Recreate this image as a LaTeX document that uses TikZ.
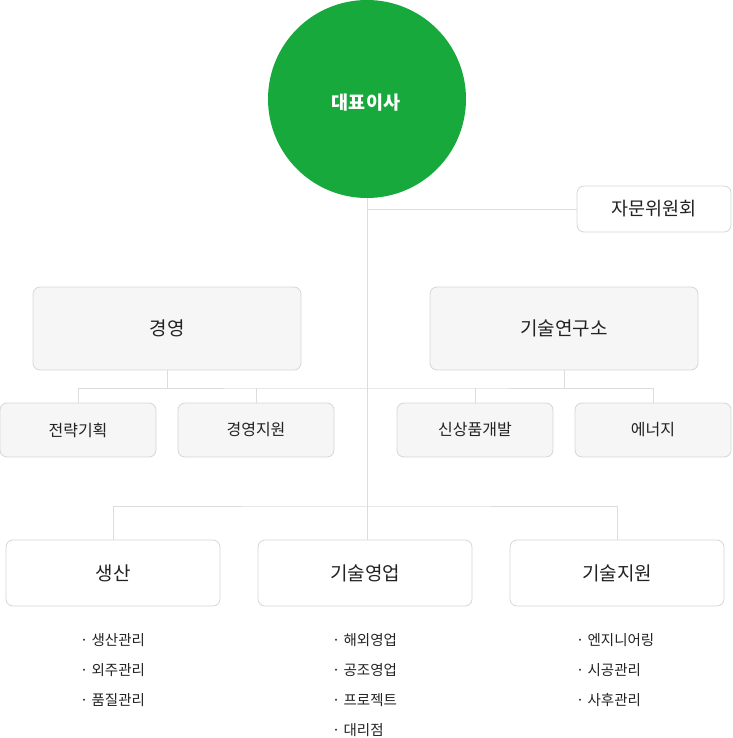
\documentclass[tikz,border=0pt]{standalone}
\usepackage{fontspec}
\setmainfont{Noto Sans CJK KR}
\definecolor{green}{HTML}{17A93B}
\definecolor{lineg}{HTML}{DCDCDC}
\definecolor{boxb}{HTML}{D6D6D6}
\definecolor{boxf}{HTML}{F6F6F6}
\definecolor{txt}{HTML}{222222}
\begin{document}
\begin{tikzpicture}[x=1pt,y=-1pt,
  conn/.style={draw=lineg,line width=0.9pt},
  gbox/.style={draw=boxb,fill=boxf,rounded corners=7pt,line width=0.8pt,text=txt},
  wbox/.style={draw=boxb,fill=white,rounded corners=7pt,line width=0.8pt,text=txt},
  item/.style={anchor=west,text=txt,font=\fontsize{14.5}{16}\selectfont,inner sep=0pt}]
\useasboundingbox (0,0) rectangle (732,738);
\node[circle,fill=green,minimum size=198pt,inner sep=0pt] (ceo) at (367,99) {};
\node[text=white,font=\fontsize{18.5}{20}\selectfont\bfseries] (ceot) at (366,103) {대표이사};
\node[wbox,minimum width=154pt,minimum height=46pt,font=\fontsize{18.5}{20}\selectfont] (adv) at (654,209) {자문위원회};
\node[gbox,minimum width=268pt,minimum height=83pt,font=\fontsize{19}{21}\selectfont] (mgmt) at (167,328.5) {경영};
\node[gbox,minimum width=268pt,minimum height=83pt,font=\fontsize{19}{21}\selectfont] (lab) at (564,328.5) {기술연구소};
\node[gbox,minimum width=156pt,minimum height=54pt,font=\fontsize{16}{18}\selectfont] (s1) at (78,430) {전략기획};
\node[gbox,minimum width=156pt,minimum height=54pt,font=\fontsize{16}{18}\selectfont] (s2) at (256,430) {경영지원};
\node[gbox,minimum width=156pt,minimum height=54pt,font=\fontsize{16}{18}\selectfont] (s3) at (475,430) {신상품개발};
\node[gbox,minimum width=156pt,minimum height=54pt,font=\fontsize{16}{18}\selectfont] (s4) at (653,430) {에너지};
\node[wbox,minimum width=214pt,minimum height=66pt,font=\fontsize{19}{21}\selectfont] (prod) at (113,573) {생산};
\node[wbox,minimum width=214pt,minimum height=66pt,font=\fontsize{19}{21}\selectfont] (sales) at (365,573) {기술영업};
\node[wbox,minimum width=214pt,minimum height=66pt,font=\fontsize{19}{21}\selectfont] (supp) at (617,573) {기술지원};
% connectors
\coordinate (j1) at (367,209);
\coordinate (j2) at (367,388);
\coordinate (j3) at (367,506);
\coordinate (sb) at (367,540);
\draw[conn] (ceo.south) -- (sb);
\draw[conn] (j1) -- (adv.west);
\draw[conn] (mgmt.south) -- (167,388);
\draw[conn] (lab.south) -- (564,388);
\draw[conn] (s1.north) |- (j2) -| (s4.north);
\draw[conn] (s2.north) -- (256,388);
\draw[conn] (s3.north) -- (475,388);
\draw[conn] (prod.north) |- (j3) -| (supp.north);
% lists
\node[item] (p1) at (80,640) {· 생산관리};
\node[item] (p2) at (80,670) {· 외주관리};
\node[item] (p3) at (80,700) {· 품질관리};
\node[item] (t1) at (332,640) {· 해외영업};
\node[item] (t2) at (332,670) {· 공조영업};
\node[item] (t3) at (332,700) {· 프로젝트};
\node[item] (t4) at (332,730) {· 대리점};
\node[item] (u1) at (576,640) {· 엔지니어링};
\node[item] (u2) at (576,670) {· 시공관리};
\node[item] (u3) at (576,700) {· 사후관리};
\end{tikzpicture}
\end{document}
